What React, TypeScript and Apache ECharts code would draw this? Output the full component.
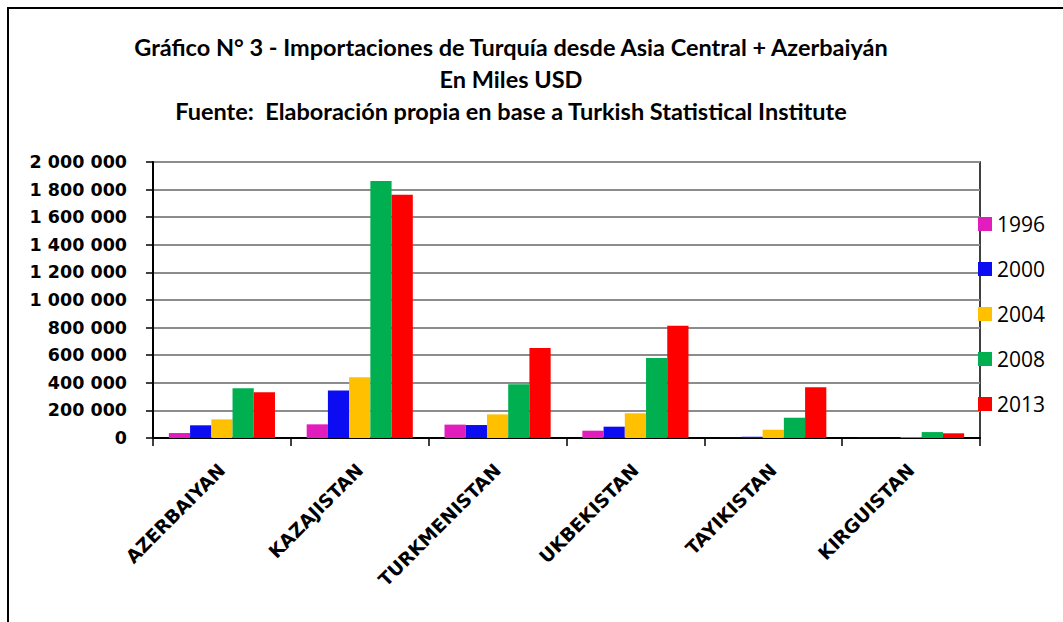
import React, { useEffect, useRef } from "react";
import * as echarts from "echarts";

const categories = ["AZERBAIYAN", "KAZAJISTAN", "TURKMENISTAN", "UKBEKISTAN", "TAYIKISTAN", "KIRGUISTAN"];
const years = ["1996", "2000", "2004", "2008", "2013"];
const colors = ["#E21DBE", "#0C0CF2", "#FFC000", "#00B050", "#FF0000"];
const v1996 = [36000, 99000, 97000, 53000, 1000, 1000];
const v2000 = [92000, 345000, 94000, 82000, 9000, 1000];
const v2004 = [135000, 440000, 171000, 179000, 60000, 5000];
const v2008 = [360000, 1862000, 389000, 580000, 147000, 43000];
const v2013 = [331000, 1763000, 652000, 814000, 367000, 34000];
const seriesValues = [v1996, v2000, v2004, v2008, v2013];
const titleLines = [
  "Gráfico N° 3 - Importaciones de Turquía desde Asia Central + Azerbaiyán",
  "En Miles USD",
  "Fuente:  Elaboración propia en base a Turkish Statistical Institute",
];

const fmt = (v: number) => String(v).replace(/\B(?=(\d{3})+(?!\d))/g, " ");

export default function App() {
  const ref = useRef<HTMLDivElement>(null);
  useEffect(() => {
    if (!ref.current) return;
    const chart = echarts.init(ref.current, undefined, { renderer: "svg" });
    chart.setOption({
      animation: false,
      backgroundColor: "#fff",
      title: {
        text: titleLines.join("\n"),
        left: 511,
        top: 31,
        textAlign: "center",
        padding: 0,
        textStyle: {
          fontFamily: "Lato",
          fontWeight: "bold",
          fontSize: 23.5,
          lineHeight: 32,
          color: "#000",
        },
      },
      legend: {
        orient: "vertical",
        left: 978,
        top: 212,
        padding: 0,
        itemWidth: 14,
        itemHeight: 14,
        itemGap: 21,
        icon: "rect",
        data: years,
        textStyle: { fontFamily: "Open Sans", fontSize: 21, lineHeight: 24, color: "#000" },
      },
      grid: {
        left: 153,
        top: 162,
        width: 827,
        height: 276,
        show: true,
        borderColor: "#000",
        borderWidth: 1.5,
      },
      xAxis: {
        type: "category",
        data: categories,
        axisLine: { lineStyle: { color: "#000", width: 2 } },
        axisTick: { show: true, length: 8, lineStyle: { color: "#000", width: 1.5 } },
        axisLabel: {
          interval: 0,
          rotate: 45,
          margin: 29,
          fontFamily: "DejaVu Sans",
          fontWeight: "bold",
          fontSize: 18.5,
          color: "#000",
        },
      },
      yAxis: {
        type: "value",
        min: 0,
        max: 2000000,
        interval: 200000,
        axisLine: { show: true, lineStyle: { color: "#000", width: 2 } },
        axisTick: { show: true, length: 7, lineStyle: { color: "#000", width: 1.5 } },
        splitLine: { lineStyle: { color: "#8c8c8c", width: 2 } },
        axisLabel: {
          margin: 26,
          formatter: fmt,
          fontFamily: "DejaVu Sans",
          fontWeight: "bold",
          fontSize: 17.5,
          color: "#000",
        },
      },
      graphic: [
        {
          type: "rect",
          shape: { x: 8, y: 8, width: 1200, height: 800 },
          style: { fill: "none", stroke: "#000", lineWidth: 2 },
          silent: true,
        },
      ],
      series: years.map((y, i) => ({
        name: y,
        type: "bar",
        data: seriesValues[i],
        barGap: "0%",
        barCategoryGap: "23%",
        itemStyle: { color: colors[i] },
      })),
    });
    return () => chart.dispose();
  }, []);
  return (
    <div
      ref={ref}
      style={{ position: "fixed", left: 0, top: 0, width: 1063, height: 622 }}
    />
  );
}
